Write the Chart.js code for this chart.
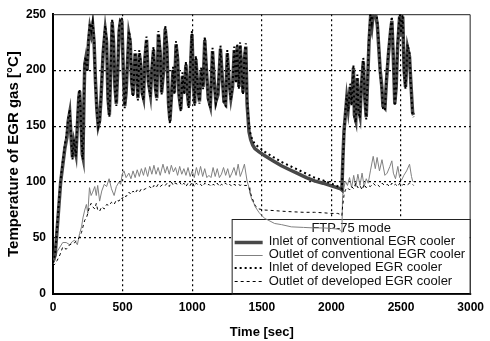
<!DOCTYPE html>
<html>
<head>
<meta charset="utf-8">
<script src="https://cdn.jsdelivr.net/npm/chart.js@4.4.1/dist/chart.umd.min.js"></script>
<style>
  body { margin: 0; background: #fff; }
</style>
</head>
<body>
<canvas id="myChart" width="490" height="341"></canvas>
<script>
// czas [s] dla linii wlotowych
const inletTime = [
  0,15,25,40,55,70,85,100,110,120,
  130,140,150,165,175,185,191,200,210,215,
  222,228,235,245,255,265,275,285,295,305,
  315,325,335,345,360,375,385,395,405,415,
  425,435,445,455,465,475,485,495,505,515,
  525,545,555,565,575,590,600,610,620,630,
  640,650,660,672,685,700,710,722,735,745,
  757,770,780,795,806,818,830,840,850,862,
  872,884,895,905,918,930,942,955,965,975,
  985,998,1010,1018,1026,1040,1052,1065,1078,1090,
  1102,1115,1130,1146,1158,1170,1185,1203,1215,1228,
  1240,1252,1265,1278,1290,1302,1315,1323,1335,1344,
  1355,1365,1375,1385,1394,1408,1420,1435,1450,1480,
  1522,1580,1641,1700,1760,1820,1878,1940,1995,2040,
  2066,2075,2082,2090,2100,2110,2120,2135,2145,2158,
  2165,2175,2186,2195,2205,2215,2229,2240,2250,2260,
  2270,2280,2290,2300,2310,2320,2330,2340,2350,2362,
  2370,2384,2395,2410,2425,2434,2445,2455,2465,2475,
  2490,2500,2512,2522,2532,2547,2561,2570,2583,2590
];
const inletConventional = [
  30,35,50,75,100,115,130,140,155,162,
  140,122,135,125,150,175,181,160,125,122,
  170,205,210,200,225,238,232,240,225,190,
  165,150,155,175,215,236,225,175,160,200,
  243,225,185,170,200,235,244,243,200,168,
  180,232,225,190,178,215,200,175,215,205,
  180,175,210,227,190,178,200,218,185,175,
  232,215,180,200,237,220,170,155,175,200,
  180,223,210,178,165,195,180,205,180,168,
  195,232,185,170,210,185,172,200,185,227,
  200,175,168,217,190,172,178,219,195,172,
  170,215,190,175,185,218,190,221,185,222,
  200,180,210,221,170,145,138,133,130,127,
  123.5,119,114.6,111,107.5,104,101,99,96.8,95,
  94,93,120,145,160,175,165,185,170,202,
  160,155,193,165,159,185,208,175,158,190,
  225,245,238,250,252,248,240,220,200,185,
  168,166,190,215,235,244,210,170,185,220,
  248,230,248,200,185,220,212,190,162,160
];
const inletDeveloped = [
  28,36,52,78,102,118,133,145,158,165,
  142,120,138,123,155,178,183,158,124,120,
  175,208,212,198,228,242,235,243,228,188,
  163,149,153,178,218,240,228,172,158,203,
  246,228,182,168,203,238,247,246,198,166,
  182,235,228,188,176,218,203,173,218,208,
  178,173,213,230,188,176,203,221,183,173,
  235,218,178,203,240,223,168,152,173,203,
  178,226,213,176,163,198,178,208,178,166,
  198,235,183,168,213,183,170,203,183,230,
  203,173,166,220,188,170,180,222,193,170,
  168,218,188,173,187,221,188,224,183,225,
  198,178,213,224,173,150,142,137,134,131,
  127,122.5,118,114.5,111,107.5,104,101.5,99,96.5,
  95,94,118,142,162,178,163,188,168,205,
  158,153,196,163,157,188,211,173,156,193,
  228,250,242,254,255,252,244,223,198,183,
  166,164,193,218,238,248,213,168,183,223,
  252,233,252,198,183,223,215,188,160,158
];

// czas [s] dla linii wylotowych
const outletTime = [
  0,15,30,50,70,95,120,140,156,175,
  191,205,215,228,240,250,262,274,285,300,
  311,321,335,350,368,385,403,420,439,455,
  474,486,497,510,525,545,560,575,590,605,
  620,635,650,663,680,695,710,725,740,755,
  770,790,806,820,835,850,865,880,895,910,
  925,940,955,970,985,1000,1015,1030,1045,1060,
  1075,1090,1105,1120,1135,1150,1165,1180,1195,1210,
  1225,1240,1255,1270,1285,1300,1315,1330,1345,1360,
  1375,1394,1408,1415,1429,1443,1452,1479,1500,1522,
  1592,1641,1712,1800,1878,1950,1995,2045,2066,2075,
  2080,2090,2100,2115,2130,2145,2160,2175,2190,2205,
  2220,2235,2250,2264,2280,2300,2315,2328,2345,2363,
  2384,2400,2420,2434,2445,2460,2477,2490,2505,2520,
  2540,2561,2575,2583,2590
];
const outletConventional = [
  27,30,38,42,46,46,44,47,48,44,
  54,60,68,75,80,72,95,88,91,96,
  88,97,83,92,98,96,103,94,88,96,
  100,98,107,110,104,108,103,110,104,111,
  105,112,106,113,105,114,107,115,107,113,
  106,116,108,114,107,115,109,113,106,114,
  107,112,106,113,105,110,104,113,106,114,
  105,112,104,106,104,113,105,112,104,107,
  113,106,112,104,108,113,106,116,105,110,
  116,101,95,90,84,81,78,73,70,67.5,
  63,62,60,59.5,59,59,58.6,58,57,55,
  88,95,101,97,104,95,106,96,107,97,
  108,96,103,99,110,123,112,122,110,120,
  106,108,114,119,108,103,114,104,102,106,
  110,116,105,101,100
];
const outletDeveloped = [
  25,27,30,35,42,40,44,45,46,48,
  51,55,60,66,68,72,78,81,78,76,
  81,75,74,78,76,80,79,82,80,84,
  83,86,85,88,87,91,89,92,90,93,
  91,94,93,94,95,96,94,97,95,98,
  96,98,97,99,96,100,97,99,98,100,
  97,99,96,99,97,100,96,99,97,98,
  96,99,97,98,96,98,97,99,96,98,
  97,99,97,98,96,98,97,98,97,98,
  97,97,95,92,86,82,79,76,75.5,75,
  74.5,74,73.5,73,73,72.5,72,72,71,70,
  78,88,93,95,93,96,94,99,95,97,
  93,98,95,97,96,99,97,98,96,99,
  97,98,96,99,97,98,96,99,97,98,
  97,99,98,98,97
];

const xTicks = [0, 500, 1000, 1500, 2000, 2500, 3000];
const yTicks = [0, 50, 100, 150, 200, 250];
const legendTitle = 'FTP-75 mode';
// kolejnosc w legendzie (indeksy datasetow)
const legendOrder = [1, 3, 0, 2];

const FONT = "'Liberation Sans', Arial, sans-serif";

function toPoints(xs, ys) {
  return xs.map((x, i) => ({ x: x, y: ys[i] }));
}

// ramka wykresu i legenda w prawym dolnym rogu (pod liniami danych)
const framePlugin = {
  id: 'frame',
  beforeDatasetsDraw(chart) {
    const a = chart.chartArea;
    const c = chart.ctx;
    c.save();
    c.strokeStyle = '#222';
    c.lineWidth = 1;
    c.beginPath();
    c.moveTo(a.left, a.top + 0.5);
    c.lineTo(a.right - 0.5, a.top + 0.5);
    c.lineTo(a.right - 0.5, a.bottom);
    c.stroke();

    // legenda
    const bx = a.right - 239, by = a.bottom - 75;
    c.fillStyle = '#fff';
    c.fillRect(bx, by, a.right - bx - 1, a.bottom - by - 1);
    c.strokeStyle = '#222';
    c.lineWidth = 1;
    c.strokeRect(bx + 0.5, by + 0.5, a.right - bx - 1, a.bottom - by);
    c.fillStyle = '#111';
    c.font = '13px ' + FONT;
    c.textBaseline = 'middle';
    c.textAlign = 'center';
    c.fillText(legendTitle, (bx + a.right) / 2, by + 9);
    c.textAlign = 'left';
    legendOrder.forEach((di, k) => {
      const ds = chart.data.datasets[di];
      const y = by + 22.5 + k * 13.2;
      c.save();
      c.strokeStyle = ds.borderColor;
      c.lineWidth = ds.borderWidth;
      c.setLineDash(ds.borderDash || []);
      c.beginPath();
      c.moveTo(bx + 3, Math.round(y) + (ds.borderWidth % 2 ? 0.5 : 0));
      c.lineTo(bx + 31, Math.round(y) + (ds.borderWidth % 2 ? 0.5 : 0));
      c.stroke();
      c.restore();
      c.fillText(ds.label, bx + 37, y);
    });
    c.restore();
  }
};

function edgeColor(min, max) {
  return (c) => (c.tick && (c.tick.value === min || c.tick.value === max)) ? 'rgba(0,0,0,0)' : '#000';
}

const ctx = document.getElementById('myChart');
new Chart(ctx, {
  type: 'line',
  data: {
    datasets: [
      {
        label: 'Inlet of developed EGR cooler',
        data: toPoints(inletTime, inletDeveloped),
        borderColor: '#000', borderWidth: 2, borderDash: [2, 3], order: 1
      },
      {
        label: 'Inlet of conventional EGR cooler',
        data: toPoints(inletTime, inletConventional),
        borderColor: '#484848', borderWidth: 3.5, order: 2
      },
      {
        label: 'Outlet of developed EGR cooler',
        data: toPoints(outletTime, outletDeveloped),
        borderColor: '#000', borderWidth: 1, borderDash: [3, 3], order: 3
      },
      {
        label: 'Outlet of conventional EGR cooler',
        data: toPoints(outletTime, outletConventional),
        borderColor: '#808080', borderWidth: 1, order: 4
      }
    ]
  },
  options: {
    responsive: false,
    animation: false,
    devicePixelRatio: 1,
    layout: { autoPadding: false, padding: { left: 3, right: 10, top: 12, bottom: 0 } },
    elements: { point: { radius: 0 }, line: { tension: 0 } },
    plugins: { legend: { display: false }, tooltip: { enabled: false } },
    scales: {
      x: {
        type: 'linear', min: 0, max: 3000,
        afterBuildTicks: (s) => { s.ticks = xTicks.map(v => ({ value: v })); },
        afterFit: (s) => { s.height = 47; },
        ticks: { color: '#000', padding: 6, maxRotation: 0, callback: (v) => String(v), font: { family: FONT, size: 12, weight: 'bold' } },
        grid: { color: edgeColor(0, 3000), lineWidth: 1.2, drawTicks: false },
        border: { color: '#000', width: 2, dash: [2, 3] },
        title: { display: true, text: 'Time [sec]', color: '#000', padding: { top: 0, bottom: 1 }, font: { family: FONT, size: 13, weight: 'bold' } }
      },
      y: {
        min: 0, max: 250,
        afterBuildTicks: (s) => { s.ticks = yTicks.map(v => ({ value: v })); },
        afterFit: (s) => { s.width = 50; },
        ticks: { color: '#000', padding: 7, font: { family: FONT, size: 12, weight: 'bold' } },
        grid: { color: edgeColor(0, 250), lineWidth: 1.2, drawTicks: false },
        border: { color: '#000', width: 2, dash: [2, 3] },
        title: { display: true, text: 'Temperature of EGR gas [°C]', color: '#000', padding: { top: 2, bottom: 0 }, font: { family: FONT, size: 15, weight: 'bold' } }
      }
    }
  },
  plugins: [framePlugin]
});
</script>
</body>
</html>
